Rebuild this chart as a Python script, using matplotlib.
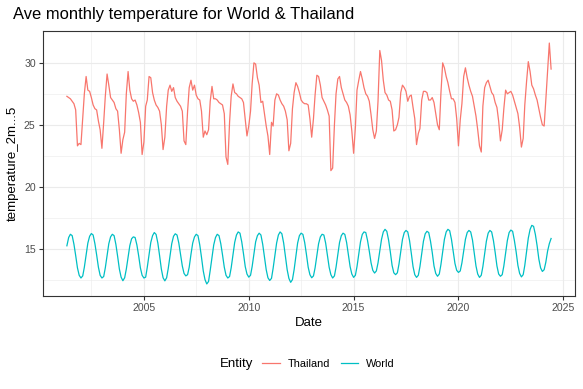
import matplotlib
matplotlib.use("Agg")
import matplotlib.pyplot as plt
import matplotlib.dates as mdates
import numpy as np
import pandas as pd

# Monthly average 2m temperature, May 2001 - Jun 2024
start_month = "2001-05-01"

# Thailand, one row per calendar year
thailand_2001 = [27.3, 27.2, 27.1, 26.9, 26.7, 26.2, 23.3, 23.5]
thailand_rows = [
    [23.4, 25.5, 27.5, 28.9, 27.8, 27.7, 27.2, 26.6, 26.3, 26.2, 25.3, 24.6],  # 2002
    [23.1, 25.2, 27.3, 29.1, 28.2, 27.2, 27.0, 26.8, 26.3, 26.1, 24.6, 22.7],  # 2003
    [23.8, 24.4, 27.5, 29.3, 27.8, 27.1, 26.9, 27.0, 26.6, 26.0, 25.2, 22.6],  # 2004
    [23.6, 26.5, 27.0, 28.9, 28.8, 27.6, 27.0, 26.6, 26.4, 26.1, 25.0, 23.0],  # 2005
    [24.0, 26.5, 27.8, 28.2, 27.7, 28.0, 27.2, 26.9, 26.7, 26.5, 26.1, 23.7],  # 2006
    [23.4, 26.1, 28.0, 28.6, 27.8, 28.2, 27.4, 27.1, 27.0, 26.1, 24.0, 24.5],  # 2007
    [24.2, 24.6, 26.9, 28.1, 27.1, 27.1, 27.0, 26.8, 26.7, 26.6, 25.9, 22.4],  # 2008
    [21.8, 25.2, 27.3, 28.3, 27.6, 27.5, 27.3, 27.2, 27.1, 26.8, 25.4, 24.1],  # 2009
    [24.9, 26.1, 28.3, 30.0, 29.9, 28.8, 28.2, 26.8, 26.9, 25.9, 24.9, 24.1],  # 2010
    [22.6, 25.2, 24.9, 27.0, 27.5, 27.4, 27.0, 26.7, 26.5, 26.1, 25.4, 22.9],  # 2011
    [23.5, 26.3, 27.6, 28.4, 28.1, 27.6, 27.0, 26.8, 26.7, 26.7, 26.6, 25.5],  # 2012
    [24.0, 25.5, 27.4, 29.0, 28.9, 28.2, 27.2, 26.9, 26.6, 26.2, 25.7, 21.3],  # 2013
    [21.5, 25.0, 27.5, 28.7, 28.9, 28.0, 27.5, 27.0, 26.8, 26.5, 25.8, 24.5],  # 2014
    [22.7, 24.8, 27.8, 28.6, 29.3, 28.7, 28.0, 27.5, 27.3, 26.9, 25.8, 24.6],  # 2015
    [23.9, 24.5, 26.9, 31.0, 30.2, 28.6, 27.6, 27.4, 27.0, 26.9, 26.2, 24.5],  # 2016
    [24.6, 25.0, 25.6, 27.6, 28.2, 28.0, 27.7, 26.9, 27.3, 27.4, 26.4, 25.5],  # 2017
    [23.4, 24.3, 24.7, 27.0, 27.7, 27.7, 27.6, 27.0, 27.0, 27.2, 26.8, 25.9],  # 2018
    [25.0, 24.6, 27.5, 30.0, 29.6, 28.9, 28.4, 27.7, 27.1, 27.1, 26.8, 25.5],  # 2019
    [23.3, 25.4, 26.7, 28.9, 29.6, 28.8, 28.2, 27.7, 27.3, 26.5, 25.7, 24.6],  # 2020
    [23.3, 22.8, 26.5, 28.0, 28.4, 28.6, 28.1, 27.6, 27.4, 26.8, 26.4, 25.3],  # 2021
    [23.7, 24.6, 26.3, 27.8, 27.5, 27.6, 27.7, 27.4, 26.9, 26.4, 25.9, 24.8],  # 2022
    [23.2, 23.9, 26.6, 28.5, 30.1, 29.3, 28.2, 27.9, 27.4, 27.0, 26.3, 25.6],  # 2023
]
thailand_2024 = [25.0, 24.9, 27.0, 29.4, 31.6, 29.5]

# World
world_2001 = [15.23, 15.90, 16.16, 16.05, 15.35, 14.45, 13.45, 12.85]
world_rows = [
    [12.63, 12.80, 13.50, 14.50, 15.45, 16.00, 16.22, 16.10, 15.40, 14.50, 13.50, 12.85],  # 2002
    [12.63, 12.75, 13.45, 14.45, 15.40, 15.95, 16.16, 16.05, 15.35, 14.40, 13.35, 12.70],  # 2003
    [12.41, 12.65, 13.35, 14.30, 15.25, 15.80, 15.95, 15.90, 15.30, 14.45, 13.45, 12.85],  # 2004
    [12.63, 12.70, 13.50, 14.55, 15.50, 16.05, 16.30, 16.15, 15.45, 14.45, 13.35, 12.65],  # 2005
    [12.40, 12.65, 13.40, 14.45, 15.40, 16.00, 16.20, 16.10, 15.45, 14.55, 13.60, 13.00],  # 2006
    [12.80, 12.90, 13.50, 14.55, 15.45, 15.95, 16.16, 16.05, 15.30, 14.30, 13.20, 12.50],  # 2007
    [12.15, 12.35, 13.25, 14.30, 15.30, 15.90, 16.16, 16.05, 15.40, 14.50, 13.50, 12.85],  # 2008
    [12.63, 12.75, 13.45, 14.50, 15.50, 16.10, 16.35, 16.25, 15.55, 14.60, 13.55, 12.95],  # 2009
    [12.70, 12.85, 13.55, 14.60, 15.55, 16.05, 16.25, 16.10, 15.35, 14.35, 13.30, 12.65],  # 2010
    [12.43, 12.60, 13.40, 14.45, 15.45, 16.10, 16.35, 16.20, 15.45, 14.40, 13.30, 12.60],  # 2011
    [12.28, 12.50, 13.30, 14.40, 15.45, 16.05, 16.25, 16.15, 15.50, 14.55, 13.50, 12.90],  # 2012
    [12.65, 12.80, 13.45, 14.45, 15.40, 15.95, 16.16, 16.10, 15.45, 14.50, 13.50, 12.90],  # 2013
    [12.63, 12.80, 13.50, 14.55, 15.50, 16.05, 16.25, 16.15, 15.50, 14.55, 13.55, 12.95],  # 2014
    [12.68, 12.85, 13.55, 14.55, 15.55, 16.15, 16.35, 16.30, 15.65, 14.80, 13.85, 13.25],  # 2015
    [13.03, 13.20, 13.85, 14.80, 15.75, 16.35, 16.56, 16.40, 15.70, 14.75, 13.65, 13.05],  # 2016
    [12.90, 13.05, 13.75, 14.75, 15.75, 16.30, 16.47, 16.35, 15.65, 14.65, 13.55, 12.90],  # 2017
    [12.68, 12.85, 13.55, 14.60, 15.60, 16.20, 16.40, 16.30, 15.60, 14.70, 13.60, 13.00],  # 2018
    [12.77, 12.95, 13.70, 14.75, 15.75, 16.35, 16.56, 16.45, 15.75, 14.80, 13.80, 13.25],  # 2019
    [13.08, 13.20, 13.85, 14.80, 15.75, 16.30, 16.47, 16.35, 15.70, 14.65, 13.60, 12.95],  # 2020
    [12.68, 12.85, 13.55, 14.60, 15.60, 16.25, 16.47, 16.35, 15.65, 14.70, 13.60, 12.95],  # 2021
    [12.77, 12.90, 13.60, 14.65, 15.65, 16.30, 16.50, 16.40, 15.65, 14.75, 13.65, 13.00],  # 2022
    [12.72, 12.90, 13.65, 14.75, 15.85, 16.55, 16.88, 16.80, 16.15, 15.25, 14.15, 13.45],  # 2023
]
world_2024 = [13.16, 13.30, 13.90, 14.80, 15.40, 15.82]

entities = ["Thailand", "World"]
colors = {"Thailand": "#F8766D", "World": "#00BFC4"}


def main():
    thailand = thailand_2001 + [v for row in thailand_rows for v in row] + thailand_2024
    world = world_2001 + [v for row in world_rows for v in row] + world_2024
    dates = pd.date_range(start_month, periods=len(thailand), freq="MS")
    series = {"Thailand": thailand, "World": world}

    plt.rcParams["font.family"] = ["Liberation Sans", "DejaVu Sans"]

    fig = plt.figure(figsize=(5.83, 3.89), dpi=100)
    ax = fig.add_axes([0.0732, 0.2391, 0.9136, 0.6812])

    lines = []
    for name in entities:
        (ln,) = ax.plot(dates, series[name], color=colors[name], lw=0.9, label=name, zorder=3)
        lines.append(ln)

    ax.margins(x=0.05, y=0.05)
    xlim = ax.get_xlim()

    # ggplot-like breaks
    major = [pd.Timestamp(f"{y}-01-01") for y in range(2000, 2031, 5)]
    major_num = mdates.date2num(major)
    minor_num = (major_num[:-1] + major_num[1:]) / 2
    ax.set_xticks(major_num)
    ax.set_xticks(minor_num, minor=True)
    ax.xaxis.set_major_formatter(mdates.DateFormatter("%Y"))
    ax.set_xlim(xlim)

    ax.set_yticks([15, 20, 25, 30])
    ax.set_yticks([12.5, 17.5, 22.5, 27.5], minor=True)

    ax.grid(which="major", color="#EBEBEB", lw=0.8, zorder=0)
    ax.grid(which="minor", color="#EBEBEB", lw=0.4, zorder=0)
    ax.set_axisbelow(True)

    for sp in ax.spines.values():
        sp.set_color("#333333")
        sp.set_linewidth(0.8)

    ax.tick_params(which="major", length=3, width=0.8, color="#333333",
                   labelsize=7.6, labelcolor="#4D4D4D", pad=2)
    ax.tick_params(which="minor", length=0)

    ax.set_xlabel("Date", fontsize=9.5, labelpad=3)
    ax.set_ylabel("temperature_2m...5", fontsize=9.5, labelpad=4)

    fig.text(13 / 583, 1 - 14 / 389, "Ave monthly temperature for World & Thailand",
             fontsize=11.9, va="center", ha="left")

    # legend at bottom with title on the left
    fig.text(253 / 583, 1 - 364 / 389, "Entity", fontsize=9.5, ha="right", va="center")
    fig.legend(handles=lines, labels=entities, loc="center left",
               bbox_to_anchor=(262 / 583, 1 - 364 / 389), ncol=2, frameon=False,
               fontsize=7.9, handlelength=1.6, handletextpad=0.75,
               columnspacing=0.95, borderaxespad=0, borderpad=0)

    fig.savefig("out.png", dpi=100)


if __name__ == "__main__":
    main()
